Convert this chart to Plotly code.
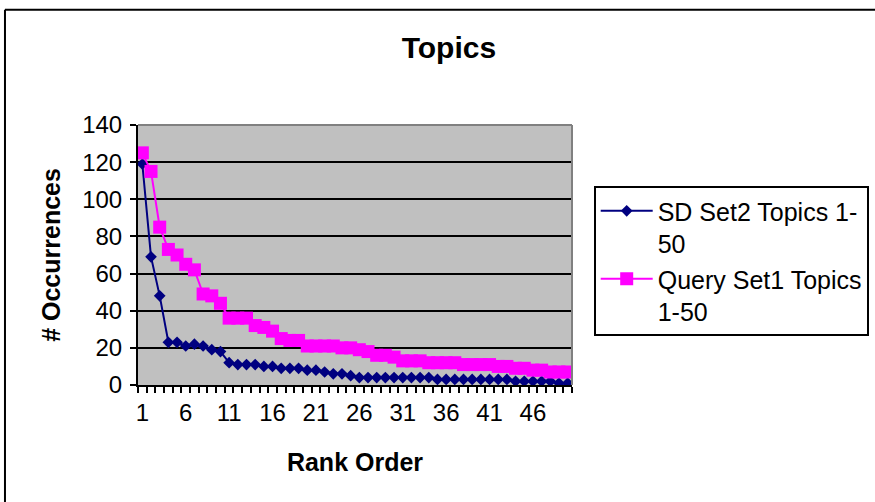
import plotly.graph_objects as go

rank = list(range(1, 51))
sd_set2 = [119, 69, 48, 23, 23, 21, 22, 21, 19, 18,
           12, 11, 11, 11, 10, 10, 9, 9, 9, 8,
           8, 7, 6, 6, 5, 4, 4, 4, 4, 4,
           4, 4, 4, 4, 3, 3, 3, 3, 3, 3,
           3, 3, 3, 2, 2, 2, 2, 2, 1, 1]
query_set1 = [125, 115, 85, 73, 70, 65, 62, 49, 48, 44,
              36, 36, 36, 32, 31, 29, 25, 24, 24, 21,
              21, 21, 21, 20, 20, 19, 18, 16, 16, 15,
              13, 13, 13, 12, 12, 12, 12, 11, 11, 11,
              11, 10, 10, 9, 9, 8, 8, 7, 7, 7]
x_tick_vals = [1, 6, 11, 16, 21, 26, 31, 36, 41, 46]
x_tick_text = [str(v) for v in x_tick_vals]
y_tick_vals = [0, 20, 40, 60, 80, 100, 120, 140]

FONT = "Liberation Sans, Arial, sans-serif"

fig = go.Figure()
fig.add_trace(go.Scatter(
    x=rank, y=sd_set2, mode="lines+markers", name="SD Set2 Topics 1-<br>50",
    legendgroup="a",
    line=dict(color="#000080", width=2),
    marker=dict(symbol="diamond", size=9, color="#000080"),
))
fig.add_trace(go.Scatter(
    x=rank, y=query_set1, mode="lines+markers", name="Query Set1 Topics<br>1-50",
    legendgroup="b",
    line=dict(color="#FF00FF", width=2),
    marker=dict(symbol="square", size=13, color="#FF00FF"),
))

fig.update_layout(
    width=875, height=502,
    margin=dict(l=138, r=303, t=125, b=117, autoexpand=False),
    paper_bgcolor="white",
    plot_bgcolor="#C0C0C0",
    font=dict(family=FONT, size=24, color="black"),
    title=dict(text="<b>Topics</b>", x=0.513, xanchor="center",
               y=1 - 47 / 502, yanchor="middle", yref="container",
               font=dict(size=30, family=FONT)),
    showlegend=True,
    legend=dict(x=1.05, y=0.765, xanchor="left", yanchor="top",
                bgcolor="white", bordercolor="black", borderwidth=2,
                valign="top", font=dict(size=25, family=FONT),
                itemwidth=52, tracegroupgap=0),
    shapes=[
        dict(type="line", xref="paper", yref="paper", x0=0, x1=1, y0=1, y1=1,
             line=dict(color="#808080", width=2)),
        dict(type="line", xref="paper", yref="paper", x0=1, x1=1, y0=0, y1=1,
             line=dict(color="#808080", width=2)),
        dict(type="line", xref="paper", yref="paper", x0=-0.3065, x1=1.75,
             y0=1.443, y1=1.443, line=dict(color="black", width=2)),
        dict(type="line", xref="paper", yref="paper", x0=-0.3065, x1=-0.3065,
             y0=1.443, y1=-0.6, line=dict(color="black", width=2)),
    ],
)

fig.update_xaxes(
    range=[0.5, 50.5], tickmode="array", tickvals=x_tick_vals, ticktext=x_tick_text,
    ticks="", showgrid=False, zeroline=False,
    showline=True, linecolor="black", linewidth=2,
    ticklabelstandoff=5,
    tickfont=dict(size=24, family=FONT),
    minor=dict(tickmode="linear", tick0=0.5, dtick=1, ticks="outside",
               ticklen=6, tickwidth=2, tickcolor="black", showgrid=False),
    title=dict(text="<b>Rank Order</b>", standoff=29,
               font=dict(size=25, family=FONT)),
)
fig.update_yaxes(
    range=[0, 140], tickmode="array", tickvals=y_tick_vals,
    ticks="outside", ticklen=6, tickwidth=2, tickcolor="black",
    showgrid=True, gridcolor="black", gridwidth=1.5, zeroline=False,
    showline=True, linecolor="black", linewidth=2,
    ticklabelstandoff=3,
    tickfont=dict(size=24, family=FONT),
    title=dict(text="<b># Occurrences</b>", standoff=14,
               font=dict(size=25, family=FONT)),
)

fig.write_html("out.html", config={"displayModeBar": False},
               post_script="document.body.style.margin='0px';document.body.style.overflow='hidden';")
